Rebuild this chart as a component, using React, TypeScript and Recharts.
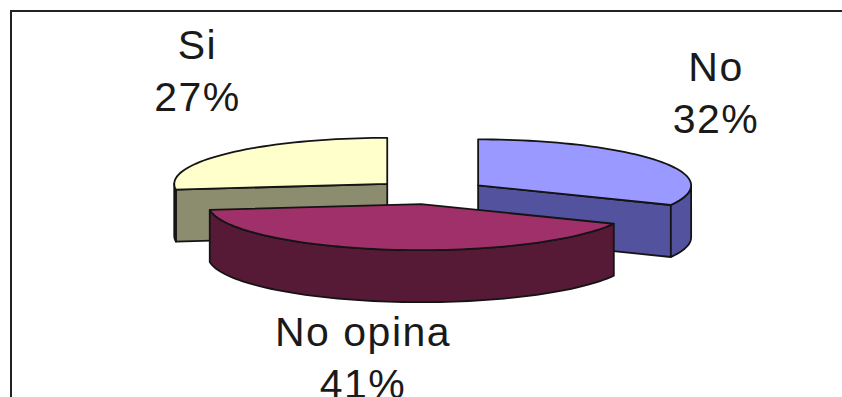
import React from "react";
import { PieChart, Pie, Cell } from "recharts";

const categories = ["Si", "No opina", "No"];
const shares = [27, 41, 32];
const topColors = ["#FFFFCC", "#A0306A", "#9999FF"];
const sideColors = ["#8C8C6E", "#561A36", "#52529E"];

const data = categories.map((name, i) => ({ name, value: shares[i] }));

const WIDTH = 842;
const HEIGHT = 397;
const CX = 430;
const CY = 192;
const RADIUS = 213;
const TILT = 0.216; // vertical squash of the top ellipse
const DEPTH = 52;
const EXPLODE = 57;
const LABEL_RX = 304;
const LABEL_RY = 174;
const RAD = Math.PI / 180;

const outline = "#141414";

const sliceShape = (front: boolean) => (props: any) => {
  const { cx, cy, outerRadius, startAngle, endAngle, payload } = props;
  const mid = (startAngle + endAngle) / 2;
  const inFront = Math.sin(mid * RAD) < 0;
  if (inFront !== front) return <g />;

  const idx = Math.max(0, categories.indexOf(payload?.name ?? props.name));
  const top = topColors[idx];
  const side = sideColors[idx];

  const ox = cx + EXPLODE * Math.cos(mid * RAD);
  const oy = cy - EXPLODE * TILT * Math.sin(mid * RAD);
  const pt = (a: number, z = 0): [number, number] => [
    ox + outerRadius * Math.cos(a * RAD),
    oy - outerRadius * TILT * Math.sin(a * RAD) + z,
  ];
  const arc = (a0: number, a1: number, z: number) => {
    const n = Math.max(2, Math.ceil(Math.abs(a1 - a0) / 2));
    const out: [number, number][] = [];
    for (let i = 0; i <= n; i++) out.push(pt(a0 + ((a1 - a0) * i) / n, z));
    return out;
  };
  const toPath = (pts: [number, number][]) =>
    "M" + pts.map((p) => `${p[0].toFixed(2)},${p[1].toFixed(2)}`).join("L") + "Z";

  const faces: React.ReactNode[] = [];
  const c0: [number, number] = [ox, oy];
  const c1: [number, number] = [ox, oy + DEPTH];

  // radial walls that face the viewer
  if (Math.cos(startAngle * RAD) > 0.001) {
    faces.push(
      <path key="s" d={toPath([c0, pt(startAngle), pt(startAngle, DEPTH), c1])} fill={side} />
    );
  }
  if (Math.cos(endAngle * RAD) < -0.001) {
    faces.push(
      <path key="e" d={toPath([c0, pt(endAngle), pt(endAngle, DEPTH), c1])} fill={side} />
    );
  }
  // curved outer wall on the front half
  [-360, 0, 360].forEach((k) => {
    const lo = Math.max(startAngle, 180 + k);
    const hi = Math.min(endAngle, 360 + k);
    if (hi > lo) {
      faces.push(
        <path
          key={`w${k}`}
          d={toPath([...arc(lo, hi, 0), ...arc(hi, lo, DEPTH)])}
          fill={side}
        />
      );
    }
  });
  faces.push(<path key="t" d={toPath([c0, ...arc(startAngle, endAngle, 0)])} fill={top} />);

  return (
    <g stroke={outline} strokeWidth={1.8} strokeLinejoin="round">
      {faces}
    </g>
  );
};

const renderLabel = (p: any) => {
  const mid = p.midAngle * RAD;
  const c = Math.cos(mid);
  // push labels sideways a little more for slices near the vertical axis
  const x = p.cx + 16 + LABEL_RX * Math.sign(c) * Math.pow(Math.abs(c), 0.7);
  const y = p.cy - 6 - LABEL_RY * Math.sin(mid);
  return (
    <text
      x={x}
      y={y - 12}
      textAnchor="middle"
      fill="#1a1a1a"
      fontSize={41}
      letterSpacing={1.5}
      fontFamily="'Liberation Sans', Arial, sans-serif"
    >
      <tspan x={x}>{p.name}</tspan>
      <tspan x={x} dy={52}>{`${p.value}%`}</tspan>
    </text>
  );
};

const App: React.FC = () => (
  <div style={{ position: "absolute", left: 0, top: 0, width: WIDTH, height: HEIGHT, background: "#fff" }}>
    <div
      style={{
        position: "absolute",
        left: 10,
        top: 10,
        right: 0,
        bottom: 0,
        borderTop: "2px solid #222",
        borderLeft: "2px solid #222",
      }}
    />
    <PieChart width={WIDTH} height={HEIGHT} margin={{ top: 0, right: 0, bottom: 0, left: 0 }} style={{ position: "absolute", left: 0, top: 0 }}>
      <Pie
        data={data}
        dataKey="value"
        nameKey="name"
        cx={CX}
        cy={CY}
        outerRadius={RADIUS}
        startAngle={90}
        endAngle={450}
        stroke="none"
        isAnimationActive={false}
        shape={sliceShape(false)}
        inactiveShape={sliceShape(false)}
        activeShape={sliceShape(false)}
      >
        {data.map((d, i) => (
          <Cell key={d.name} fill={topColors[i]} />
        ))}
      </Pie>
      <Pie
        data={data}
        dataKey="value"
        nameKey="name"
        cx={CX}
        cy={CY}
        outerRadius={RADIUS}
        startAngle={90}
        endAngle={450}
        stroke="none"
        isAnimationActive={false}
        shape={sliceShape(true)}
        inactiveShape={sliceShape(true)}
        activeShape={sliceShape(true)}
        label={renderLabel}
        labelLine={false}
      >
        {data.map((d, i) => (
          <Cell key={d.name} fill={topColors[i]} />
        ))}
      </Pie>
    </PieChart>
  </div>
);

export default App;
